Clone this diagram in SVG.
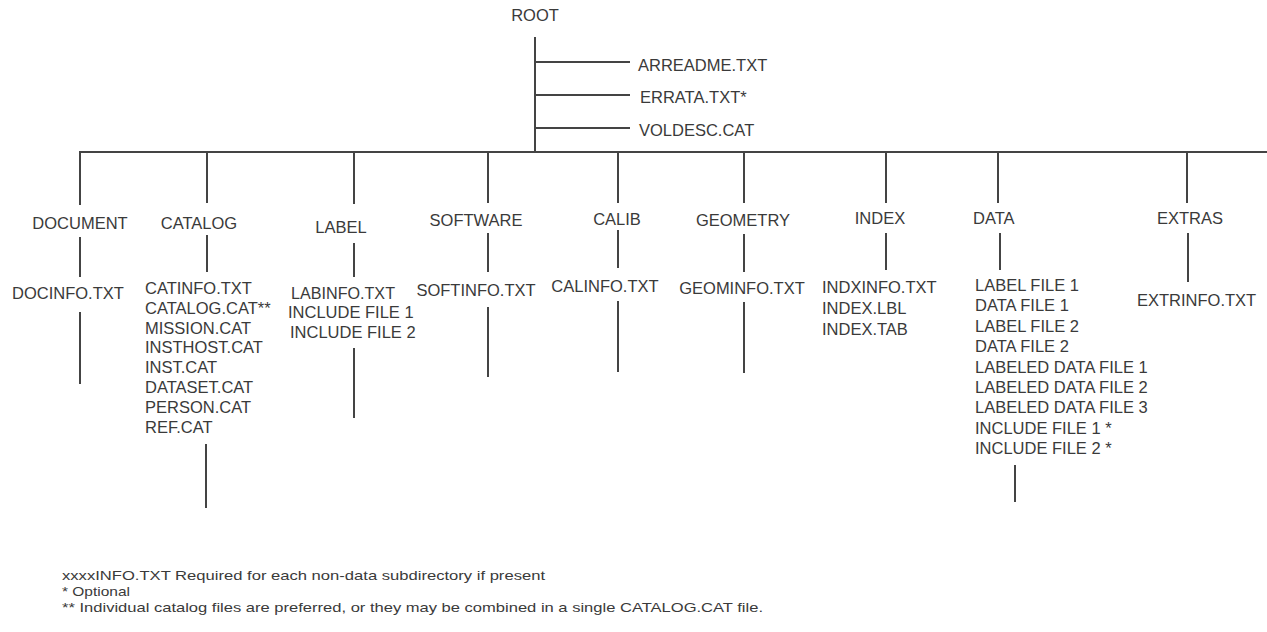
<svg xmlns="http://www.w3.org/2000/svg" width="1267" height="632" viewBox="0 0 1267 632">
<style>
text{font-family:"Liberation Sans",Arial,sans-serif;font-size:16.5px;fill:#3a3a3a}
.c{text-anchor:middle}
.fn{font-size:13px}
line{stroke:#444;stroke-width:2}
</style>
<rect width="1267" height="632" fill="#fff"/>
<g id="connectors">
<line x1="535" y1="37" x2="535" y2="153"/>
<line x1="535" y1="62" x2="630" y2="62"/>
<line x1="535" y1="95" x2="630" y2="95"/>
<line x1="535" y1="128" x2="630" y2="128"/>
<line x1="79" y1="152" x2="1267" y2="152"/>
<line x1="80" y1="152" x2="80" y2="205"/>
<line x1="80" y1="237" x2="80" y2="277"/>
<line x1="80" y1="312" x2="80" y2="384"/>
<line x1="207" y1="152" x2="207" y2="203"/>
<line x1="207" y1="235" x2="207" y2="272"/>
<line x1="206" y1="444" x2="206" y2="508"/>
<line x1="354" y1="152" x2="354" y2="204"/>
<line x1="354" y1="243" x2="354" y2="277"/>
<line x1="354" y1="348" x2="354" y2="418"/>
<line x1="488" y1="152" x2="488" y2="203"/>
<line x1="488" y1="233" x2="488" y2="272"/>
<line x1="488" y1="307" x2="488" y2="377"/>
<line x1="618" y1="152" x2="618" y2="203"/>
<line x1="618" y1="230" x2="618" y2="268"/>
<line x1="618" y1="301" x2="618" y2="372"/>
<line x1="744" y1="152" x2="744" y2="203"/>
<line x1="744" y1="234" x2="744" y2="272"/>
<line x1="744" y1="302" x2="744" y2="373"/>
<line x1="886" y1="152" x2="886" y2="203"/>
<line x1="886" y1="233" x2="886" y2="270"/>
<line x1="998" y1="152" x2="998" y2="203"/>
<line x1="1000" y1="233" x2="1000" y2="270"/>
<line x1="1015" y1="465" x2="1015" y2="502"/>
<line x1="1187" y1="152" x2="1187" y2="203"/>
<line x1="1188" y1="233" x2="1188" y2="282"/>
</g>
<g id="root"><text class="c" x="535" y="21">ROOT</text></g>
<g id="root-files">
<text x="638" y="71">ARREADME.TXT</text>
<text x="640" y="103">ERRATA.TXT*</text>
<text x="639" y="136">VOLDESC.CAT</text>
</g>
<g id="document">
<text class="c" x="80" y="229">DOCUMENT</text>
<text x="12" y="299">DOCINFO.TXT</text>
</g>
<g id="catalog">
<text class="c" x="199" y="229">CATALOG</text>
<text x="145" y="294">CATINFO.TXT</text>
<text x="145" y="313.8">CATALOG.CAT**</text>
<text x="145" y="333.6">MISSION.CAT</text>
<text x="145" y="353.4">INSTHOST.CAT</text>
<text x="145" y="373.2">INST.CAT</text>
<text x="145" y="393">DATASET.CAT</text>
<text x="145" y="412.8">PERSON.CAT</text>
<text x="145" y="432.6">REF.CAT</text>
</g>
<g id="label">
<text class="c" x="341" y="233">LABEL</text>
<text x="291" y="299" textLength="104" lengthAdjust="spacingAndGlyphs">LABINFO.TXT</text>
<text x="288" y="318">INCLUDE FILE 1</text>
<text x="290" y="338">INCLUDE FILE 2</text>
</g>
<g id="software">
<text class="c" x="476" y="226">SOFTWARE</text>
<text class="c" x="476" y="296">SOFTINFO.TXT</text>
</g>
<g id="calib">
<text class="c" x="617" y="225">CALIB</text>
<text class="c" x="605" y="292">CALINFO.TXT</text>
</g>
<g id="geometry">
<text class="c" x="743" y="226">GEOMETRY</text>
<text class="c" x="742" y="294">GEOMINFO.TXT</text>
</g>
<g id="index">
<text class="c" x="880" y="224">INDEX</text>
<text x="822" y="293">INDXINFO.TXT</text>
<text x="822" y="314">INDEX.LBL</text>
<text x="822" y="335">INDEX.TAB</text>
</g>
<g id="data">
<text x="973" y="224">DATA</text>
<text x="975" y="291">LABEL FILE 1</text>
<text x="975" y="311.4">DATA FILE 1</text>
<text x="975" y="331.8">LABEL FILE 2</text>
<text x="975" y="352.2">DATA FILE 2</text>
<text x="975" y="372.6">LABELED DATA FILE 1</text>
<text x="975" y="393">LABELED DATA FILE 2</text>
<text x="975" y="413.4">LABELED DATA FILE 3</text>
<text x="975" y="433.8">INCLUDE FILE 1 *</text>
<text x="975" y="454.2">INCLUDE FILE 2 *</text>
</g>
<g id="extras">
<text class="c" x="1190" y="224">EXTRAS</text>
<text x="1137" y="306">EXTRINFO.TXT</text>
</g>
<g id="footnotes">
<text class="fn" x="62" y="580" textLength="483" lengthAdjust="spacingAndGlyphs">xxxxINFO.TXT Required for each non-data subdirectory if present</text>
<text class="fn" x="62" y="596" textLength="68" lengthAdjust="spacingAndGlyphs">* Optional</text>
<text class="fn" x="62" y="612" textLength="701" lengthAdjust="spacingAndGlyphs">** Individual catalog files are preferred, or they may be combined in a single CATALOG.CAT file.</text>
</g>
</svg>
